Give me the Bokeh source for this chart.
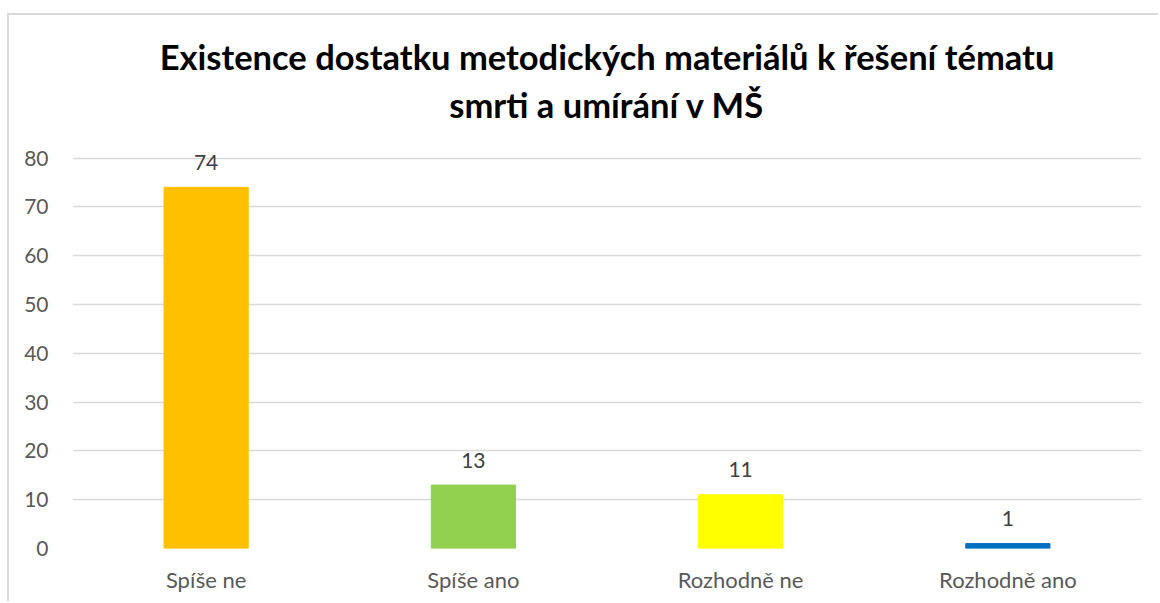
from bokeh.plotting import figure
from bokeh.models import ColumnDataSource, FactorRange, Range1d, FixedTicker, LabelSet, Title
from bokeh.core.properties import value
from bokeh.embed import file_html
from bokeh.resources import INLINE

categories = ["Spíše ne", "Spíše ano", "Rozhodně ne", "Rozhodně ano"]
values = [74, 13, 11, 1]
colors = ["#FFC000", "#92D050", "#FFFF00", "#0070C0"]
y_ticks = [0, 10, 20, 30, 40, 50, 60, 70, 80]
title_line1 = "Existence dostatku metodických materiálů k řešení tématu"
title_line2 = "smrti a umírání v MŠ"

source = ColumnDataSource(dict(cat=categories, val=values, color=colors,
                               lbl=[str(v) for v in values]))

FONT = "Lato"

p = figure(x_range=FactorRange(*categories), y_range=Range1d(0, 84),
           width=1151, height=588, output_backend="svg", toolbar_location=None,
           min_border_left=63, min_border_right=19, min_border_top=123, min_border_bottom=55)
p.margin = (13, 0, 0, 7)
p.styles = {"border-left": "2px solid #d9d9d9", "border-top": "2px solid #d9d9d9"}

t2 = Title(text=title_line2, align="center", text_font=FONT, text_font_style="bold",
           text_font_size="34.5px", text_color="#000000", standoff=27)
t1 = Title(text=title_line1, align="center", text_font=FONT, text_font_style="bold",
           text_font_size="34.5px", text_color="#000000", standoff=-17, offset=-10)
p.add_layout(t2, "above")
p.add_layout(t1, "above")

p.vbar(x="cat", top="val", width=0.315, color="color", source=source)

labels = LabelSet(x="cat", y="val", text="lbl", source=source, text_align="center",
                  text_baseline="middle", y_offset=25, text_font=value(FONT),
                  text_font_size=value("21px"), text_color=value("#404040"))
p.add_layout(labels)

p.outline_line_color = None
p.background_fill_color = "white"
p.border_fill_color = "white"

p.xgrid.grid_line_color = None
p.ygrid.grid_line_color = "#d9d9d9"
p.ygrid.grid_line_width = 1.5
p.yaxis.ticker = FixedTicker(ticks=y_ticks)

for ax in (p.xaxis, p.yaxis):
    ax.axis_line_color = None
    ax.major_tick_line_color = None
    ax.minor_tick_line_color = None
    ax.major_label_text_font = FONT
    ax.major_label_text_color = "#595959"

p.xaxis.major_label_text_font_size = "22px"
p.yaxis.major_label_text_font_size = "21px"
p.yaxis.major_label_standoff = 18
p.xaxis.major_label_standoff = 11

open("out.html", "w").write(file_html(p, INLINE))
